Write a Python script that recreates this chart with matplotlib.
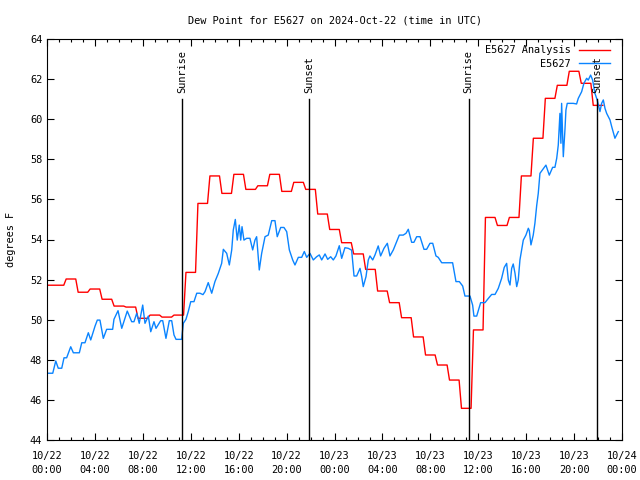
import numpy as np
import matplotlib
matplotlib.use('Agg')
import matplotlib.pyplot as plt

plt.rcParams['font.family'] = 'DejaVu Sans Mono'
plt.rcParams['font.size'] = 7.4

# hourly analysis values, hours 0..46 after 10/22 00:00 UTC
analysis_hours = np.arange(47)
analysis_vals = [51.72, 51.72, 52.03, 51.37, 51.53, 51.02, 50.68, 50.63, 50.07, 50.23,
                 50.13, 50.23, 52.36, 55.8, 57.17, 56.3, 57.25, 56.5, 56.68, 57.25,
                 56.4, 56.85, 56.5, 55.27, 54.5, 53.84, 53.28, 52.51, 51.43, 50.85,
                 50.1, 49.14, 48.24, 47.74, 46.99, 45.58, 49.49, 55.1, 54.7, 55.1,
                 57.17, 59.05, 61.04, 61.69, 62.39, 61.79, 60.69]

# station obs (hours after 10/22 00:00 UTC)
obs_hours = [0, 0.48, 0.73, 0.94, 1.23, 1.42, 1.64, 1.98, 2.20, 2.70,
             2.90, 3.17, 3.45, 3.65, 4.01, 4.20, 4.42, 4.70, 4.98, 5.48,
             5.59, 5.93, 6.24, 6.70, 7.07, 7.26, 7.49, 7.70, 7.99, 8.18,
             8.46, 8.66, 8.93, 9.10, 9.49, 9.66, 9.93, 10.21, 10.41, 10.60,
             10.77, 11.24, 11.38, 11.60, 11.79, 12.00, 12.27, 12.50, 12.77, 13.02,
             13.19, 13.46, 13.75, 14.02, 14.30, 14.58, 14.72, 15.00, 15.22, 15.42,
             15.55, 15.72, 15.88, 16.05, 16.17, 16.28, 16.44, 16.67, 16.94, 17.17,
             17.36, 17.50, 17.72, 17.92, 18.20, 18.47, 18.76, 19.03, 19.22, 19.51,
             19.78, 20.01, 20.23, 20.51, 20.70, 20.98, 21.26, 21.48, 21.68, 21.95,
             22.23, 22.51, 22.73, 22.93, 23.21, 23.43, 23.68, 23.90, 24.12, 24.40,
             24.60, 24.87, 25.15, 25.43, 25.63, 25.85, 26.13, 26.27, 26.40, 26.63,
             26.82, 26.96, 27.19, 27.38, 27.65, 27.85, 28.13, 28.41, 28.63, 28.91,
             29.19, 29.41, 29.74, 29.97, 30.16, 30.44, 30.63, 30.86, 31.14, 31.47,
             31.69, 31.97, 32.20, 32.47, 32.66, 32.95, 33.86, 33.97, 34.14, 34.42,
             34.70, 34.89, 35.31, 35.53, 35.64, 35.87, 36.20, 36.56, 36.84, 37.12,
             37.40, 37.67, 37.95, 38.17, 38.37, 38.51, 38.65, 38.79, 38.92, 39.07,
             39.21, 39.34, 39.48, 39.62, 39.76, 39.98, 40.18, 40.26, 40.40, 40.59,
             40.73, 40.88, 41.01, 41.15, 41.65, 41.93, 42.21, 42.40, 42.55, 42.68,
             42.82, 42.90, 42.96, 43.10, 43.24, 43.32, 43.43, 43.93, 44.21, 44.35,
             44.63, 44.82, 45.05, 45.18, 45.38, 45.55, 45.74, 45.93, 46.16, 46.30,
             46.44, 46.58, 46.72, 47.00, 47.14, 47.41, 47.69]
obs_vals = [47.33, 47.33, 47.94, 47.58, 47.58, 48.1, 48.1, 48.65, 48.35, 48.35,
            48.85, 48.85, 49.35, 48.99, 49.68, 49.98, 49.98, 49.07, 49.52, 49.52,
            50.02, 50.45, 49.57, 50.43, 49.9, 49.9, 50.32, 49.82, 50.73, 49.82,
            50.18, 49.4, 49.9, 49.57, 49.95, 49.95, 49.07, 49.95, 49.95, 49.24,
            49.02, 49.02, 49.82, 50.02, 50.4, 50.9, 50.9, 51.32, 51.32, 51.25,
            51.4, 51.85, 51.32, 51.9, 52.31, 52.81, 53.51, 53.31, 52.73, 53.48,
            54.47, 55.0, 53.97, 54.72, 53.97, 54.64, 53.97, 54.06, 54.06, 53.48,
            53.97, 54.14, 52.48, 53.31, 54.14, 54.22, 54.94, 54.94, 54.14, 54.6,
            54.6, 54.39, 53.48, 52.98, 52.73, 53.11, 53.11, 53.4, 53.11, 53.31,
            52.98, 53.14, 53.23, 52.98, 53.28, 53.01, 53.14, 52.98, 53.18, 53.69,
            53.06, 53.59, 53.56, 53.47, 52.18, 52.18, 52.56, 52.15, 51.65, 52.15,
            52.98, 53.18, 52.98, 53.23, 53.68, 53.18, 53.56, 53.81, 53.18, 53.48,
            53.89, 54.22, 54.22, 54.31, 54.51, 53.86, 53.86, 54.14, 54.14, 53.51,
            53.51, 53.81, 53.81, 53.18, 53.11, 52.84, 52.84, 52.48, 51.9, 51.9,
            51.68, 51.18, 51.18, 50.73, 50.18, 50.18, 50.85, 50.85, 51.06, 51.26,
            51.26, 51.56, 52.06, 52.61, 52.81, 51.98, 51.73, 52.56, 52.78, 52.31,
            51.65, 51.98, 52.98, 53.48, 53.97, 54.22, 54.56, 54.45, 53.73, 54.22,
            54.81, 55.7, 56.3, 57.3, 57.71, 57.21, 57.6, 57.6, 58.05, 58.71,
            60.29, 58.8, 60.79, 58.13, 59.5, 60.46, 60.79, 60.79, 60.76, 61.04,
            61.37, 61.79, 62.04, 61.95, 62.2, 61.95, 61.29, 60.96, 60.38, 60.79,
            60.96, 60.54, 60.29, 59.96, 59.63, 59.05, 59.38]

sun_hours = [11.27, 21.87, 35.2, 45.91]
sun_labels = ['Sunrise', 'Sunset', 'Sunrise', 'Sunset']

xtick_hours = list(range(0, 49, 4))
xtick_labels = ['10/22\n00:00', '10/22\n04:00', '10/22\n08:00', '10/22\n12:00',
                '10/22\n16:00', '10/22\n20:00', '10/23\n00:00', '10/23\n04:00',
                '10/23\n08:00', '10/23\n12:00', '10/23\n16:00', '10/23\n20:00',
                '10/24\n00:00']
yticks = list(range(44, 65, 2))

# analysis is held around each hour, short ramp between
half = 0.4
ax_x = np.ravel(np.column_stack([analysis_hours - half, analysis_hours + half]))
ax_y = np.repeat(analysis_vals, 2)
ax_x[0] = 0

fig = plt.figure(figsize=(6.4, 4.8), dpi=100)
ax = fig.add_axes([47 / 640, 40 / 480, 575 / 640, 401 / 480])

ax.plot(ax_x, ax_y, color='#ff0000', lw=1.0, label='E5627 Analysis')
ax.plot(obs_hours, obs_vals, color='#0a84ff', lw=1.0, label='E5627')

for h, lab in zip(sun_hours, sun_labels):
    ax.plot([h, h], [44, 61.0], color='black', lw=1.0)
    ax.text(h, 61.3, lab, rotation=90, ha='center', va='bottom')

ax.set_xlim(0, 48)
ax.set_ylim(44, 64)
ax.set_xticks(xtick_hours)
ax.set_xticklabels(xtick_labels, linespacing=1.45)
ax.set_xticks(range(0, 49), minor=True)
ax.set_yticks(yticks)
ax.tick_params(which='both', direction='in', top=True, right=True)
ax.tick_params(which='major', length=5, width=0.8)
ax.tick_params(which='minor', length=2.5, width=0.8)
ax.tick_params(axis='x', pad=8)

ax.set_title('Dew Point for E5627 on 2024-Oct-22 (time in UTC)', fontsize=7.4, pad=11)
ax.set_ylabel('degrees F', labelpad=10)

leg = ax.legend(loc='upper right', frameon=False, markerfirst=False,
                handlelength=3.0, borderaxespad=0.2, labelspacing=0.35,
                bbox_to_anchor=(0.99, 1.0))
for t in leg.get_texts():
    t.set_ha('right')

fig.savefig('out.png', dpi=100)
